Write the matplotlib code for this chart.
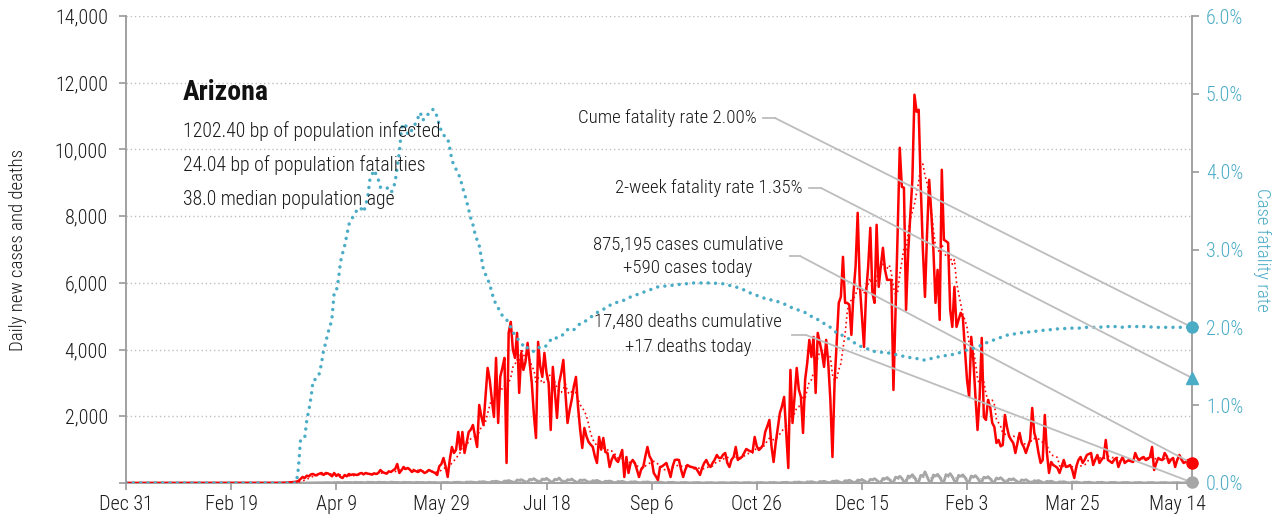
import numpy as np
import pandas as pd
import matplotlib
matplotlib.use("Agg")
import matplotlib.pyplot as plt
from matplotlib import font_manager as fm
from matplotlib.lines import Line2D

# ---------------- data ----------------
start_date = "2019-12-31"
state_name = "Arizona"
stats_lines = ["1202.40 bp of population infected",
               "24.04 bp of population fatalities",
               "38.0 median population age"]
cume_rate_label = "Cume fatality rate 2.00%"
two_week_label = "2-week fatality rate 1.35%"
cases_label = "875,195 cases cumulative\n+590 cases today"
deaths_label = "17,480 deaths cumulative\n+17 deaths today"
two_week_rate = 1.35

# daily new cases, day 0 = 2019-12-31
cases_a = [0, 0, 0, 0, 0, 0, 0, 0, 0, 0,
           0, 0, 0, 0, 0, 0, 0, 0, 0, 0,
           0, 0, 0, 0, 0, 0, 0, 0, 0, 0,
           0, 0, 0, 0, 0, 0, 0, 0, 0, 0,
           0, 0, 0, 0, 0, 0, 0, 0, 0, 0,
           0, 0, 0, 0, 0, 0, 0, 0, 0, 0,
           0, 0, 0, 0, 0, 0, 0, 0, 0, 0,
           0, 1, 2, 3, 5, 8, 10, 15, 20, 25,
           30, 40]
cases_b = [60, 120, 180, 150, 220, 200, 260, 270,
           230, 250, 280, 300, 240, 300, 290, 250, 200, 300,
           210, 260, 180, 150, 240, 200, 270, 240, 260, 250,
           240, 280, 300, 260, 300, 280, 270, 250, 290, 270,
           300, 390, 330, 300, 280, 350, 330, 380, 420, 570,
           300, 380, 480, 420, 450, 400, 330, 380, 350, 330,
           390, 350, 300, 330, 390, 360, 330, 300, 240, 500]
cases_c = [570, 750, 500, 180, 700, 1080, 900, 1000, 1530, 1000,
           1530, 900, 1200, 1530, 1600, 1740, 1400, 1080, 2340, 2000,
           1740, 2600, 3450, 3090, 2500, 1980, 3750, 1800, 3180, 3450,
           3750, 600, 4500, 4830, 4000, 3750, 4500, 2700, 3900, 3390,
           3630, 4200, 3600, 3000, 2040, 1350, 4230, 3500, 3180, 3900,
           3300, 3000, 1590, 3480, 2700, 1950, 3000, 3300, 3690, 2700,
           1800, 2190, 2500, 2900, 3180, 2280, 1600, 1050, 1650, 1400,
           1230, 1150, 1080, 800, 600, 1380]
cases_d = [1000, 1350, 930, 900,
           480, 700, 840, 700, 630, 800, 990, 180, 780, 300,
           600, 690, 600, 400, 180, 400, 480, 800, 1080, 800,
           690, 300, 200, 90, 480, 500, 550, 600, 400, 180,
           500, 690, 700, 690, 400, 180, 400, 540, 500, 480,
           460, 450, 350, 240, 450, 600, 690, 550, 480, 600,
           700, 840, 750, 750, 850, 900, 600, 480, 700, 780,
           1080, 690, 750, 780, 900, 1020, 980, 950, 930, 1380,
           1100, 990, 1050, 1140, 1530, 1700, 1890, 1100, 630, 1200,
           1650, 2100, 2300, 2580, 1500, 450, 3390, 1800, 2600, 3450,
           2800]
cases_e = [2580, 1500, 3090, 3600, 4290, 3780, 4380, 2700, 4500,
           4200, 3900, 3480, 4290, 3600, 2500, 780, 3000, 4200, 5400,
           5580, 6780, 5400, 5400, 5340, 4440, 5700, 6500, 8100, 5940,
           5000, 4080, 5700, 6500, 7650, 5700, 5400, 7740, 5880, 6500,
           7050, 6390, 6090, 6090, 6090, 2790, 5100, 7500, 10050, 8880,
           8850, 5190, 6900, 8000, 9090, 11640, 11130, 11190, 8880, 7000,
           5580, 7500, 9090, 8100, 7000, 5400, 6390, 4890, 9390, 7290,
           7250, 7200, 5190, 4680, 5880, 4680, 4900, 5100, 4980, 4000,
           3090, 2580, 4380, 3690, 2600, 1590, 2580, 4350, 1980, 1890,
           2490, 2280, 1800, 1680, 1200, 1290]
cases_f = [1100, 1140, 2040, 1680,
           1400, 1290, 1200, 900, 1200, 1500, 1200, 1080, 900, 1100,
           1290, 2250, 1500, 1290, 900, 600, 690, 2040, 900, 300,
           630, 540, 500, 450, 300, 500, 690, 480, 500, 540,
           400, 150, 500, 690, 780, 600, 700, 840, 870, 900,
           540, 700, 840, 600, 700, 780, 1290, 690, 650, 600,
           700, 750, 480, 650, 780, 600, 650, 690, 650, 630,
           900, 750, 690, 750, 780, 690, 720, 780, 1080, 390,
           600, 750, 700, 690, 900, 800, 600, 700, 750, 480,
           700, 840, 700, 600, 630, 690, 650, 590]

# daily new deaths
deaths_a = [0, 0, 0, 0, 0, 0, 0, 0, 0, 0,
            0, 0, 0, 0, 0, 0, 0, 0, 0, 0,
            0, 0, 0, 0, 0, 0, 0, 0, 0, 0,
            0, 0, 0, 0, 0, 0, 0, 0, 0, 0,
            0, 0, 0, 0, 0, 0, 0, 0, 0, 0,
            0, 0, 0, 0, 0, 0, 0, 0, 0, 0,
            0, 0, 0, 0, 0, 0, 0, 0, 0, 0,
            0, 0, 0, 0, 0, 0, 0, 0, 0, 0,
            1, 1]
deaths_b = [1, 2, 3, 2, 4, 5, 3, 6,
            8, 7, 10, 5, 12, 9, 14, 11, 6, 15,
            13, 18, 10, 8, 20, 15, 17, 12, 9, 22,
            16, 14, 19, 11, 8, 25, 18, 20, 15, 10,
            24, 19, 17, 21, 13, 9, 26, 20, 16, 18,
            12, 10, 22, 17, 15, 19, 11, 8, 20, 16,
            14, 18, 10, 7, 21, 15, 13, 17, 9, 6]
deaths_c = [12, 18, 15, 20, 8, 5, 22, 19, 25, 17,
            9, 6, 28, 24, 30, 22, 12, 8, 35, 30,
            40, 28, 15, 10, 45, 42, 55, 38, 20, 12,
            60, 55, 75, 50, 25, 18, 90, 80, 100, 70,
            35, 25, 110, 95, 130, 85, 45, 30, 120, 100,
            140, 90, 40, 28, 115, 95, 150, 80, 35, 22,
            100, 85, 120, 70, 30, 18, 90, 75, 95, 60,
            25, 15, 70, 60, 80]
deaths_d = [50, 20, 12, 55, 45,
            60, 40, 15, 8, 45, 35, 50, 30, 12, 6,
            35, 28, 40, 25, 10, 5, 30, 22, 35, 20,
            8, 4, 25, 18, 28, 15, 6, 3, 20, 15,
            22, 12, 5, 2, 15, 12, 18, 10, 4, 2,
            14, 10, 16, 9, 3, 2, 12, 9, 14, 8,
            3, 1, 11, 8, 13, 7, 3, 1, 12, 9,
            14, 8, 3, 2, 13, 10, 15, 9, 3, 2,
            14, 11, 16, 10, 4, 2, 15, 12, 18, 11,
            4, 2, 18, 14, 22, 13, 5, 3, 25, 20]
deaths_e = [30, 18, 6, 4, 35, 28, 40, 25, 8, 5,
            45, 38, 52, 30, 10, 6, 55, 48, 65, 40,
            12, 8, 70, 60, 85, 55, 15, 10, 90, 75,
            105, 70, 20, 12, 110, 95, 130, 85, 25, 15,
            140, 120, 165, 110, 30, 20, 175, 150, 200, 140,
            40, 25, 210, 180, 250, 170, 45, 30, 230, 200,
            335, 190, 50, 35, 240, 210, 260, 180, 55, 40,
            250, 215, 280, 190, 60, 40, 230, 200, 245, 170,
            55, 35, 210, 180, 220, 150, 45, 30, 175, 150,
            190, 130, 40, 25, 150, 120, 160, 100, 35, 20]
deaths_f = [120, 95, 130, 80, 30, 15, 95, 75, 100, 60,
            20, 10, 70, 55, 75, 45, 12, 6, 50, 40,
            55, 30, 8, 4, 35, 28, 40, 22, 6, 3,
            28, 22, 30, 17, 5, 2, 22, 18, 25, 14,
            4, 1, 20, 15, 22, 12, 3, 1, 18, 14,
            20, 11, 3, 1, 16, 12, 18, 10, 2, 1,
            15, 11, 17, 9, 2, 1, 14, 10, 16, 8,
            2, 1, 13, 10, 15, 8, 2, 1, 12, 9,
            14, 8, 2, 1, 12, 10, 15, 17]

# cumulative case fatality rate, percent
cfr_a = [0, 0, 0, 0, 0, 0, 0, 0, 0, 0,
         0, 0, 0, 0, 0, 0, 0, 0, 0, 0,
         0, 0, 0, 0, 0, 0, 0, 0, 0, 0,
         0, 0, 0, 0, 0, 0, 0, 0, 0, 0,
         0, 0, 0, 0, 0, 0, 0, 0, 0, 0,
         0, 0, 0, 0, 0, 0, 0, 0, 0, 0,
         0, 0, 0, 0, 0, 0, 0, 0, 0, 0,
         0, 0, 0, 0, 0, 0, 0, 0, 0, 0,
         0, 0]
cfr_b = [0.19, 0.55, 0.56, 0.58, 0.81, 0.94, 1.10, 1.32,
         1.33, 1.35, 1.41, 1.54, 1.71, 1.80, 1.93, 2.00, 2.13, 2.44,
         2.46, 2.61, 2.84, 2.95, 3.05, 3.18, 3.32, 3.38, 3.42, 3.47,
         3.51, 3.54, 3.52, 3.48, 3.57, 3.68, 3.90, 3.96, 4.02, 3.96,
         3.90, 3.80, 3.80, 3.80, 3.80, 3.76, 3.73, 3.77, 3.87, 4.05,
         4.25, 4.55, 4.62, 4.60, 4.48, 4.48, 4.54, 4.58, 4.64, 4.70,
         4.76, 4.66, 4.68, 4.73, 4.74, 4.75, 4.80, 4.78, 4.70, 4.60,
         4.52, 4.47, 4.45, 4.43, 4.30, 4.15, 4.08, 4.03, 3.97, 3.92,
         3.80, 3.72, 3.62, 3.51, 3.40, 3.32, 3.20, 3.12, 3.05, 2.90,
         2.74, 2.68, 2.62, 2.55, 2.45, 2.35, 2.30, 2.25, 2.20, 2.15,
         2.12, 2.10, 2.05, 2.00, 1.94, 1.90, 1.86, 1.83, 1.80, 1.76,
         1.72, 1.74, 1.72, 1.70, 1.69, 1.71, 1.74, 1.74, 1.74, 1.74,
         1.77, 1.80, 1.84, 1.87, 1.87, 1.86, 1.87, 1.89, 1.91, 1.94,
         1.97, 1.96, 1.95, 1.97, 1.99, 2.02, 2.05, 2.06, 2.07, 2.09,
         2.11, 2.13, 2.15, 2.17, 2.19, 2.20, 2.22, 2.23, 2.25, 2.27,
         2.28, 2.30, 2.31, 2.32, 2.32, 2.33, 2.34, 2.35, 2.36, 2.38,
         2.39, 2.40, 2.41, 2.42, 2.43, 2.44, 2.45, 2.46, 2.47, 2.48,
         2.49, 2.50, 2.51, 2.52, 2.52, 2.53, 2.53, 2.53, 2.54, 2.54,
         2.54, 2.55, 2.55, 2.55, 2.56, 2.56, 2.56, 2.56, 2.57, 2.57,
         2.57, 2.57, 2.57, 2.57, 2.57, 2.57, 2.57, 2.57, 2.57, 2.57,
         2.57, 2.56, 2.56, 2.56, 2.56, 2.55, 2.55, 2.54, 2.53, 2.52,
         2.52, 2.51, 2.50, 2.49, 2.48, 2.47, 2.46, 2.44, 2.43, 2.42,
         2.41, 2.40, 2.39, 2.38, 2.37, 2.36, 2.36, 2.35, 2.34, 2.33,
         2.33, 2.32, 2.31, 2.30, 2.29, 2.28, 2.26, 2.25, 2.24, 2.23,
         2.22, 2.21, 2.20, 2.19, 2.17, 2.16, 2.14, 2.13, 2.11, 2.10,
         2.08, 2.06, 2.05, 2.04, 2.02, 2.00, 1.98, 1.95, 1.93, 1.92,
         1.91, 1.89, 1.88, 1.86, 1.85, 1.83, 1.81, 1.79, 1.77, 1.76,
         1.75, 1.74, 1.73, 1.72, 1.70, 1.70, 1.69, 1.69, 1.68, 1.68,
         1.68, 1.67, 1.67, 1.67, 1.66, 1.66, 1.65, 1.65, 1.64, 1.63,
         1.63, 1.62, 1.62, 1.61, 1.61, 1.60, 1.60, 1.59, 1.59, 1.58,
         1.58, 1.58, 1.59, 1.60, 1.61, 1.61, 1.62, 1.62, 1.63, 1.63,
         1.64, 1.64, 1.65, 1.65, 1.66, 1.67, 1.67, 1.68, 1.69, 1.70,
         1.71, 1.71, 1.72, 1.73, 1.74, 1.75, 1.76, 1.77, 1.78, 1.80,
         1.81, 1.82, 1.83, 1.84, 1.85, 1.86, 1.87, 1.88, 1.89, 1.90,
         1.90, 1.91, 1.91, 1.92, 1.92, 1.93, 1.93, 1.93, 1.94, 1.94,
         1.94, 1.95, 1.95, 1.95, 1.96, 1.96, 1.96, 1.97, 1.97, 1.97,
         1.97, 1.98, 1.98, 1.98, 1.98, 1.98, 1.98, 1.99, 1.99, 1.99,
         1.99, 1.99, 1.99, 1.99, 1.99, 2.00, 2.00, 2.00, 2.00, 2.00,
         2.00, 2.00, 2.01, 2.01, 2.00, 2.00, 2.01, 2.01, 2.01, 2.00,
         2.01, 2.01, 2.01, 2.01, 2.00, 2.01, 2.01, 2.01, 2.01, 2.01,
         2.01, 2.01, 2.00, 2.01, 2.01, 2.01, 2.01, 2.01, 2.00, 2.00,
         2.00, 2.00, 2.00, 2.00, 2.00, 2.00, 2.00, 2.00, 2.00, 2.00,
         2.00, 2.00, 2.00, 2.00, 2.00, 2.00, 2.00, 2.00]

x_tick_step_days = 50
left_ticks = [0, 2000, 4000, 6000, 8000, 10000, 12000, 14000]
right_ticks = [0, 1, 2, 3, 4, 5, 6]

# ---------------- assemble ----------------
cases = cases_a + cases_b + cases_c + cases_d + cases_e + cases_f
deaths = deaths_a + deaths_b + deaths_c + deaths_d + deaths_e + deaths_f
cfr = cfr_a + cfr_b
n = min(len(cases), len(deaths), len(cfr))
cases, deaths, cfr = cases[:n], deaths[:n], cfr[:n]
dates = pd.date_range(start_date, periods=n, freq="D")
cases_avg = pd.Series(cases).rolling(7, min_periods=1).mean().values
deaths_avg = pd.Series(deaths).rolling(7, min_periods=1).mean().values

# ---------------- font ----------------
names = {f.name for f in fm.fontManager.ttflist}
FONT = "DejaVu Sans"
STRETCH = "normal"
for cand in ["Roboto Condensed", "Liberation Sans Narrow", "Open Sans Condensed",
             "Noto Sans Condensed", "Arial Narrow"]:
    if cand in names:
        FONT = cand
        break
else:
    if any(f.name == "DejaVu Sans" and f.stretch == "condensed" for f in fm.fontManager.ttflist):
        STRETCH = "condensed"
has_light = any(f.name == FONT and f.weight in (300, "light") for f in fm.fontManager.ttflist)
BODY_W = "light" if has_light else "normal"
plt.rcParams["font.family"] = [FONT, "DejaVu Sans"]
plt.rcParams["font.stretch"] = STRETCH
plt.rcParams["font.weight"] = BODY_W
plt.rcParams["axes.labelweight"] = BODY_W

RED = "#FF0000"
BLUE = "#4BACC6"
GREY = "#A6A6A6"
SPINE = "#9A9A9A"
TXT = "#1A1A1A"
LEAD = "#BDBDBD"

W, H = 1278, 523
fig = plt.figure(figsize=(W / 100, H / 100), dpi=100)
L, R, T, B = 126, 1192, 16, 483
ax1 = fig.add_axes([L / W, 1 - B / H, (R - L) / W, (B - T) / H])
ax2 = ax1.twinx()

def fx(px):
    return px / W

def fy(py):
    return 1 - py / H

# lines
ax1.plot(dates, deaths, color=GREY, lw=2.0, zorder=3, solid_joinstyle="round")
ax1.plot(dates, deaths_avg, color=GREY, lw=1.0, ls=":", zorder=3)
ax1.plot(dates, cases, color=RED, lw=1.8, zorder=4, solid_joinstyle="round")
ax1.plot(dates, cases_avg, color=RED, lw=1.2, ls=(0, (1, 1.8)), zorder=5)
ax2.plot(dates, cfr, color=BLUE, lw=2.5, ls=(0, (0.01, 2.1)),
         dash_capstyle="round", zorder=3)

# axes styling
ax1.set_xlim(dates[0], dates[-1])
ax1.set_ylim(0, 14000)
ax2.set_ylim(0, 6)
xt = pd.date_range(start_date, dates[-1], freq=f"{x_tick_step_days}D")
ax1.set_xticks(xt)
ax1.set_xticklabels([d.strftime("%b ") + str(d.day) for d in xt])
ax1.set_yticks(left_ticks)
ax1.set_yticklabels(["" if v == 0 else f"{v:,}" for v in left_ticks])
ax2.set_yticks(right_ticks)
ax2.set_yticklabels([f"{v:.1f}%" for v in right_ticks])

for ax in (ax1, ax2):
    ax.spines["top"].set_visible(False)
    for s in ("left", "right", "bottom"):
        ax.spines[s].set_color(SPINE)
        ax.spines[s].set_linewidth(1.3)
ax1.spines["right"].set_visible(False)
ax2.spines["left"].set_visible(False)
ax2.spines["bottom"].set_visible(False)

ax1.yaxis.grid(True, color="#BFBFBF", linestyle=(0, (1, 2)), lw=1.0)
ax1.set_axisbelow(True)
ax1.tick_params(axis="y", length=5, width=1.2, color=SPINE, labelsize=14.5,
                labelcolor=TXT, pad=8)
ax1.tick_params(axis="x", length=5, width=1.2, color=SPINE, labelsize=14.5,
                labelcolor=TXT, pad=4)
ax2.tick_params(axis="y", length=5, width=1.2, color=SPINE, labelsize=14.5,
                labelcolor=BLUE, pad=5)

ax1.set_ylabel("Daily new cases and deaths", fontsize=13.5, color=TXT,
               fontweight=BODY_W)
ax1.yaxis.set_label_coords((27 - L) / (R - L), 0.5)
ax2.set_ylabel("Case fatality rate", fontsize=13.5, color=BLUE, rotation=270,
               va="center", fontweight=BODY_W)
ax2.yaxis.set_label_coords((1262 - L) / (R - L), 0.5)

# title block
fig.text(fx(183), fy(92), state_name, fontsize=20, fontweight="bold",
         color="#111111", va="center", ha="left")
for i, line in enumerate(stats_lines):
    fig.text(fx(183), fy(131 + 34.5 * i), line, fontsize=14.2, color=TXT,
             va="center", ha="left")

# annotations with leader lines
last = dates[-1]
leaders = [
    (cume_rate_label, 757, 118, [118], 763, 775, ax2, cfr[-1]),
    (two_week_label, 803, 188, [188], 809, 821, ax2, two_week_rate),
    (cases_label, 688, 256, [245, 268], 790, 800, ax1, cases[-1]),
    (deaths_label, 688, 335, [322, 347], 792, 806, ax1, deaths[-1]),
]
for label, tx, ly, tys, x0, x1, ax, val in leaders:
    lines = label.split("\n")
    if len(lines) == 1:
        fig.text(fx(tx), fy(tys[0]), lines[0], fontsize=13.6, color=TXT,
                 ha="right", va="center")
    else:
        for t, ty in zip(lines, tys):
            fig.text(fx(tx), fy(ty), t, fontsize=13.6, color=TXT,
                     ha="center", va="center")
    fig.add_artist(Line2D([fx(x0), fx(x1)], [fy(ly), fy(ly)],
                          transform=fig.transFigure, color=LEAD, lw=1.3,
                          zorder=6))
    ax.annotate("", xy=(last, val), xycoords="data",
                xytext=(fx(x1), fy(ly)), textcoords="figure fraction",
                arrowprops=dict(arrowstyle="-", color=LEAD, lw=1.3,
                                shrinkA=0, shrinkB=0),
                annotation_clip=False, zorder=6)

# end markers
ax2.plot([last], [cfr[-1]], "o", color=BLUE, ms=8, clip_on=False, zorder=10)
ax2.plot([last], [two_week_rate], "^", color=BLUE, ms=9, clip_on=False, zorder=10)
ax2.plot([last], [cases[-1] / 14000 * 6], "o", color=RED, ms=8, clip_on=False, zorder=10)
ax2.plot([last], [deaths[-1] / 14000 * 6], "o", color=GREY, ms=8, clip_on=False, zorder=10)

fig.savefig("out.png", dpi=100)
